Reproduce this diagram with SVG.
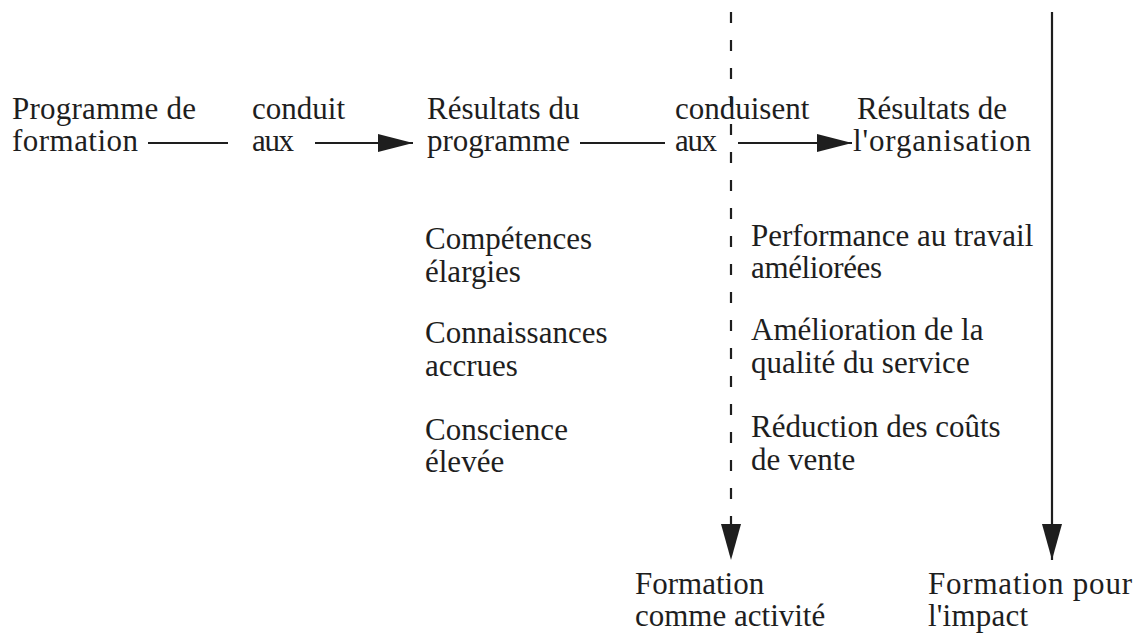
<svg xmlns="http://www.w3.org/2000/svg" width="1139" height="635" viewBox="0 0 1139 635">
  <style>
    text { font-family: "Liberation Serif", "Times New Roman", serif; font-size: 31px; fill: #1e1e1e; }
    .ln { stroke: #1e1e1e; stroke-width: 2.2; fill: none; }
    .dash { stroke-dasharray: 11 17; }
  </style>
  <defs>
    <marker id="ah" markerWidth="35" markerHeight="20" refX="35" refY="10" orient="auto" markerUnits="userSpaceOnUse">
      <path d="M0,1 L35,10 L0,19 Z" fill="#1e1e1e"/>
    </marker>
    <marker id="av" markerWidth="36" markerHeight="20" refX="36" refY="10" orient="auto" markerUnits="userSpaceOnUse">
      <path d="M0,0 L36,10 L0,20 Z" fill="#1e1e1e"/>
    </marker>
  </defs>

  <g id="connectors">
    <line class="ln" x1="148" y1="143" x2="228" y2="143"/>
    <line class="ln" x1="315" y1="143" x2="413" y2="143" marker-end="url(#ah)"/>
    <line class="ln" x1="580" y1="143" x2="665" y2="143"/>
    <line class="ln" x1="738" y1="143" x2="852" y2="143" marker-end="url(#ah)"/>
    <line class="ln dash" x1="731" y1="12" x2="731" y2="560" marker-end="url(#av)"/>
    <line class="ln" x1="1052" y1="12" x2="1052" y2="560" marker-end="url(#av)"/>
  </g>

  <g id="programme-formation">
    <text x="12" y="119" textLength="184">Programme de</text>
    <text x="12" y="151" textLength="126">formation</text>
  </g>
  <g id="label-conduit">
    <text x="252" y="119" textLength="93">conduit</text>
    <text x="252" y="151" textLength="42">aux</text>
  </g>
  <g id="resultats-programme">
    <text x="427" y="119">Résultats du</text>
    <text x="427" y="151">programme</text>
  </g>
  <g id="label-conduisent">
    <text x="675" y="119">conduisent</text>
    <text x="675" y="151" textLength="42">aux</text>
  </g>
  <g id="resultats-organisation">
    <text x="857" y="119" textLength="150">Résultats de</text>
    <text x="853" y="151" textLength="178">l'organisation</text>
  </g>

  <g id="programme-items">
    <text x="425" y="249">Compétences</text>
    <text x="425" y="282">élargies</text>
    <text x="425" y="343">Connaissances</text>
    <text x="425" y="376">accrues</text>
    <text x="425" y="440">Conscience</text>
    <text x="425" y="472">élevée</text>
  </g>

  <g id="organisation-items">
    <text x="751" y="246">Performance au travail</text>
    <text x="751" y="278" textLength="131">améliorées</text>
    <text x="751" y="340">Amélioration de la</text>
    <text x="751" y="373">qualité du service</text>
    <text x="751" y="437">Réduction des coûts</text>
    <text x="751" y="470">de vente</text>
  </g>

  <g id="formation-activite">
    <text x="635" y="594">Formation</text>
    <text x="635" y="626">comme activité</text>
  </g>
  <g id="formation-impact">
    <text x="928" y="594" textLength="204">Formation pour</text>
    <text x="928" y="626" textLength="100">l'impact</text>
  </g>
</svg>
